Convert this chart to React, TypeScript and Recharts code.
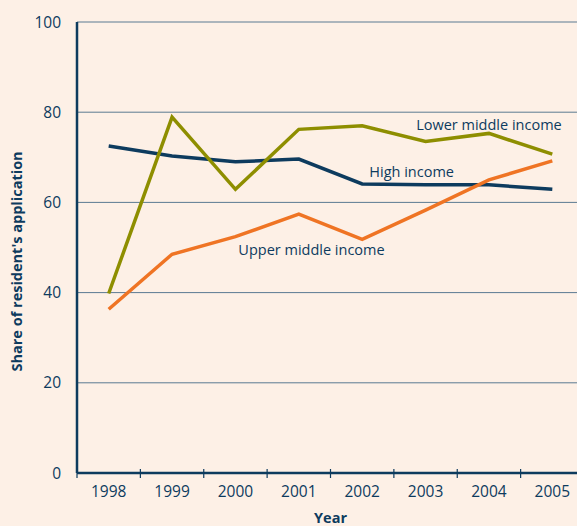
import { LineChart, Line, XAxis, YAxis, CartesianGrid, ReferenceDot } from "recharts"

const years = [1998, 1999, 2000, 2001, 2002, 2003, 2004, 2005]
const highIncome = [72.5, 70.3, 69.0, 69.6, 64.1, 63.9, 63.9, 62.9]
const lowerMiddle = [39.8, 78.9, 62.9, 76.2, 77.0, 73.5, 75.3, 70.7]
const upperMiddle = [36.3, 48.5, 52.4, 57.4, 51.8, 58.3, 65.0, 69.2]
const yTicks = [0, 20, 40, 60, 80, 100]

const data = years.map((year, i) => ({
  year,
  high: highIncome[i],
  lower: lowerMiddle[i],
  upper: upperMiddle[i],
}))

const navy = "#0d3b5e"
const olive = "#8e8e00"
const orange = "#ef7424"
const font = "'Open Sans', sans-serif"

const chartW = 600
const margin = { top: 22, right: 16, left: 0, bottom: 23 }
const yAxisW = 77
const step = (chartW - margin.left - margin.right - yAxisW) / years.length

// year label plus the small tick at the left edge of each year's slot
const YearTick = (props: any) => {
  const { x, y, payload, index } = props
  const bx = x - step / 2
  return (
    <g>
      <line x1={bx} x2={bx} y1={index === 0 ? y : y - 4} y2={y + 5} stroke={navy} strokeWidth={1.2} />
      <text x={x} y={y + 24} textAnchor="middle" fill={navy} fontSize={15.5} fontFamily={font}>
        {payload.value}
      </text>
    </g>
  )
}

export default function App() {
  return (
    <div
      style={{
        position: "absolute",
        left: 0,
        top: 0,
        width: 577,
        height: 526,
        overflow: "hidden",
        background: "#fdf0e6",
        fontFamily: font,
      }}
    >
      <LineChart width={chartW} height={526} data={data} margin={margin}>
        <CartesianGrid vertical={false} stroke="#5b7a92" strokeWidth={1} />
        <XAxis
          type="number"
          dataKey="year"
          domain={[1997.5, 2005.5]}
          ticks={years}
          interval={0}
          height={30}
          axisLine={{ stroke: navy, strokeWidth: 2.5 }}
          tickLine={false}
          tickSize={0}
          tickMargin={0}
          tick={<YearTick />}
          label={{ value: "Year", position: "insideBottom", offset: -20, fill: navy, fontSize: 14.5, fontWeight: 700, fontFamily: font }}
        />
        <YAxis
          domain={[0, 100]}
          ticks={yTicks}
          width={yAxisW}
          interval={0}
          axisLine={{ stroke: navy, strokeWidth: 2.5 }}
          tickLine={false}
          tickMargin={10}
          tick={{ fill: navy, fontSize: 15.5, fontFamily: font }}
          label={{
            value: "Share of resident's application",
            angle: -90,
            position: "insideLeft",
            offset: 17,
            dy: 124,
            fill: navy,
            fontSize: 14.5,
            fontWeight: 700,
            fontFamily: font,
          }}
        />
        <Line dataKey="high" stroke={navy} strokeWidth={3.5} dot={false} isAnimationActive={false} />
        <Line dataKey="lower" stroke={olive} strokeWidth={3.5} dot={false} isAnimationActive={false} />
        <Line dataKey="upper" stroke={orange} strokeWidth={3.5} dot={false} isAnimationActive={false} />
        <ReferenceDot x={2004.0} y={77.2} r={0} label={{ value: "Lower middle income", position: "center", fill: navy, fontSize: 14.5, fontFamily: font }} />
        <ReferenceDot x={2002.78} y={66.7} r={0} label={{ value: "High income", position: "center", fill: navy, fontSize: 14.5, fontFamily: font }} />
        <ReferenceDot x={2001.2} y={49.4} r={0} label={{ value: "Upper middle income", position: "center", fill: navy, fontSize: 14.5, fontFamily: font }} />
      </LineChart>
    </div>
  )
}
